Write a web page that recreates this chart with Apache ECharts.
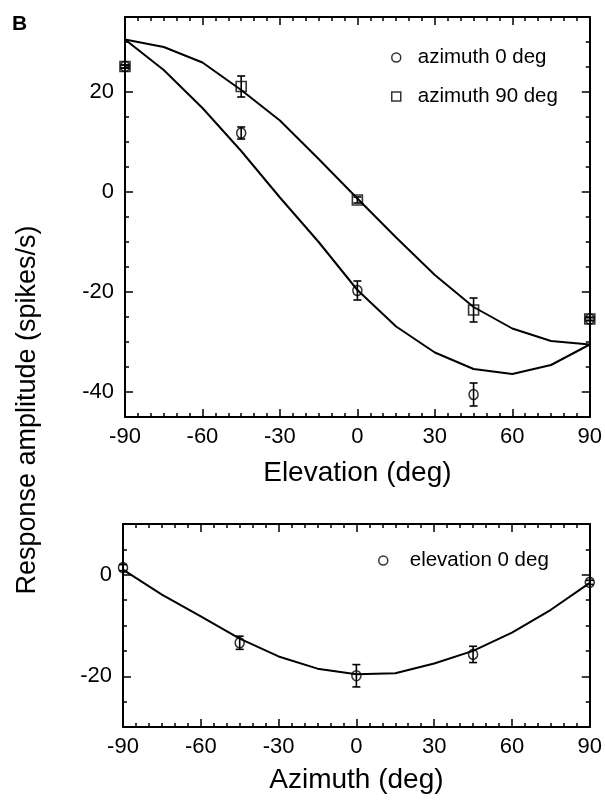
<!DOCTYPE html>
<html>
<head>
<meta charset="utf-8">
<script src="https://cdn.jsdelivr.net/npm/echarts@6/dist/echarts.min.js"></script>
<style>
  html, body { margin: 0; padding: 0; background: #fff; }
  #chart { width: 605px; height: 800px; }
</style>
</head>
<body>
<div id="chart"></div>
<script>
// fitted curves, one vertex every 15 deg
var fitX = [-90, -75, -60, -45, -30, -15, 0, 15, 30, 45, 60, 75, 90];
var fitAz0 = [30.5, 24.4, 16.8, 8.2, -1.1, -10.0, -19.6, -26.9, -32.1, -35.4, -36.4, -34.6, -30.5];
var fitAz90 = [30.5, 29.0, 25.9, 20.4, 14.3, 6.6, -1.3, -9.1, -16.6, -23.0, -27.3, -29.8, -30.5];
var fitEl0 = [1.0, -3.9, -8.2, -12.6, -16.1, -18.5, -19.6, -19.4, -17.5, -15.0, -11.4, -6.9, -1.6];

// measured points (mean, +/- error)
var ptX = [-90, -45, 0, 45, 90];
var az0Mean = [25.1, 11.8, -19.7, -40.5, -25.4];
var az0Err = [0.3, 1.2, 1.9, 2.3, 0.3];
var az90Mean = [25.1, 21.1, -1.6, -23.6, -25.4];
var az90Err = [0.3, 2.1, 0.6, 2.4, 0.3];
var el0Mean = [1.4, -13.4, -19.9, -15.7, -1.5];
var el0Err = [0.6, 1.3, 2.2, 1.6, 0.4];

// tick labels
var xTicks = { min: -90, max: 90, step: 30 };
var topY = { min: -45, max: 35, labels: [-40, -20, 0, 20] };
var botY = { min: -30, max: 10, labels: [-20, 0] };

var FONT = "'Liberation Sans', Arial, Helvetica, sans-serif";
var BLACK = '#000';

function pairs(xs, ys) {
  return xs.map(function (x, i) { return [x, ys[i]]; });
}

function xAxes(gi, name, nameGap) {
  var base = {
    gridIndex: gi, type: 'value', min: xTicks.min, max: xTicks.max, interval: xTicks.step,
    splitLine: { show: false },
    axisLine: { onZero: false, lineStyle: { color: BLACK, width: 2 } },
    axisTick: { inside: true, length: 8, lineStyle: { color: BLACK, width: 1.5 } },
    minorTick: { show: true, splitNumber: 6, length: 4, lineStyle: { color: BLACK, width: 1.5 } }
  };
  return [
    Object.assign({}, base, {
      position: 'bottom',
      axisLabel: { fontSize: 22, color: BLACK, fontFamily: FONT, margin: 9 },
      name: name, nameLocation: 'middle', nameGap: nameGap,
      nameTextStyle: { fontSize: 28, color: BLACK, fontFamily: FONT }
    }),
    Object.assign({}, base, { position: 'top', axisLabel: { show: false } })
  ];
}

function yAxes(gi, cfg) {
  var major = {
    gridIndex: gi, type: 'value', min: cfg.min, max: cfg.max, interval: 5,
    splitLine: { show: false },
    axisLine: { onZero: false, lineStyle: { color: BLACK, width: 2 } },
    axisTick: { inside: true, length: 8, customValues: cfg.labels, lineStyle: { color: BLACK, width: 1.5 } }
  };
  var minor = {
    gridIndex: gi, type: 'value', min: cfg.min, max: cfg.max, interval: 5,
    splitLine: { show: false },
    axisLine: { show: false, onZero: false },
    axisLabel: { show: false },
    axisTick: { inside: true, length: 4, lineStyle: { color: BLACK, width: 1.5 } }
  };
  return [
    Object.assign({}, major, {
      position: 'left',
      axisLabel: { customValues: cfg.labels, fontSize: 22, color: BLACK, fontFamily: FONT, margin: 11 }
    }),
    Object.assign({}, minor, { position: 'left' }),
    Object.assign({}, major, { position: 'right', axisLabel: { show: false } }),
    Object.assign({}, minor, { position: 'right' })
  ];
}

function fitLine(xi, yi, ys) {
  return {
    type: 'line', xAxisIndex: xi, yAxisIndex: yi, data: pairs(fitX, ys),
    showSymbol: false, symbol: 'none', silent: true,
    lineStyle: { color: BLACK, width: 2 }, z: 2
  };
}

function points(xi, yi, name, symbol, size, ys) {
  return {
    type: 'scatter', name: name, xAxisIndex: xi, yAxisIndex: yi, data: pairs(ptX, ys),
    symbol: symbol, symbolSize: size, silent: true,
    itemStyle: { color: 'rgba(0,0,0,0)', borderColor: BLACK, borderWidth: 1.6 }, z: 4
  };
}

function errorBars(xi, yi, means, errs) {
  return {
    type: 'custom', xAxisIndex: xi, yAxisIndex: yi, silent: true, clip: false, z: 3,
    data: ptX.map(function (x, i) { return [x, means[i] - errs[i], means[i] + errs[i]]; }),
    renderItem: function (params, api) {
      var lo = api.coord([api.value(0), api.value(1)]);
      var hi = api.coord([api.value(0), api.value(2)]);
      var w = 4;
      var st = { stroke: BLACK, lineWidth: 1.6 };
      return {
        type: 'group',
        children: [
          { type: 'line', shape: { x1: lo[0], y1: lo[1], x2: hi[0], y2: hi[1] }, style: st },
          { type: 'line', shape: { x1: lo[0] - w, y1: lo[1], x2: lo[0] + w, y2: lo[1] }, style: st },
          { type: 'line', shape: { x1: hi[0] - w, y1: hi[1], x2: hi[0] + w, y2: hi[1] }, style: st }
        ]
      };
    }
  };
}

var chart = echarts.init(document.getElementById('chart'));
chart.setOption({
  animation: false,
  backgroundColor: '#fff',
  textStyle: { fontFamily: FONT },
  grid: [
    { left: 125, top: 17, width: 467, height: 400 },
    { left: 123, top: 524, width: 469, height: 203 }
  ],
  xAxis: xAxes(0, 'Elevation (deg)', 42).concat(xAxes(1, 'Azimuth (deg)', 39)),
  yAxis: yAxes(0, topY).concat(yAxes(1, botY)),
  legend: [
    {
      orient: 'vertical', left: 386, top: 42, itemWidth: 9, itemHeight: 9, itemGap: 18,
      selectedMode: false,
      itemStyle: { color: 'rgba(0,0,0,0)', borderColor: BLACK, borderWidth: 1.5 },
      textStyle: { fontSize: 20.5, color: BLACK, fontFamily: FONT, padding: [0, 0, 0, 12] },
      data: [{ name: 'azimuth 0 deg', icon: 'circle' }, { name: 'azimuth 90 deg', icon: 'rect' }]
    },
    {
      orient: 'vertical', left: 373, top: 545, itemWidth: 9, itemHeight: 9,
      selectedMode: false,
      itemStyle: { color: 'rgba(0,0,0,0)', borderColor: BLACK, borderWidth: 1.5 },
      textStyle: { fontSize: 20.5, color: BLACK, fontFamily: FONT, padding: [0, 0, 0, 17] },
      data: [{ name: 'elevation 0 deg', icon: 'circle' }]
    }
  ],
  graphic: [
    {
      type: 'text', left: 12, top: 14,
      style: { text: 'B', font: 'bold 21px ' + FONT, fill: BLACK }
    },
    {
      type: 'text', x: 28, y: 410, rotation: Math.PI / 2,
      style: {
        text: 'Response amplitude (spikes/s)', font: '27px ' + FONT, fill: BLACK,
        textAlign: 'center', textVerticalAlign: 'middle'
      }
    }
  ],
  series: [
    fitLine(0, 0, fitAz90),
    fitLine(0, 0, fitAz0),
    errorBars(0, 0, az0Mean, az0Err),
    errorBars(0, 0, az90Mean, az90Err),
    points(0, 0, 'azimuth 0 deg', 'circle', [9, 10], az0Mean),
    points(0, 0, 'azimuth 90 deg', 'rect', 10, az90Mean),
    fitLine(2, 4, fitEl0),
    errorBars(2, 4, el0Mean, el0Err),
    points(2, 4, 'elevation 0 deg', 'circle', [9, 10], el0Mean)
  ]
});
</script>
</body>
</html>
